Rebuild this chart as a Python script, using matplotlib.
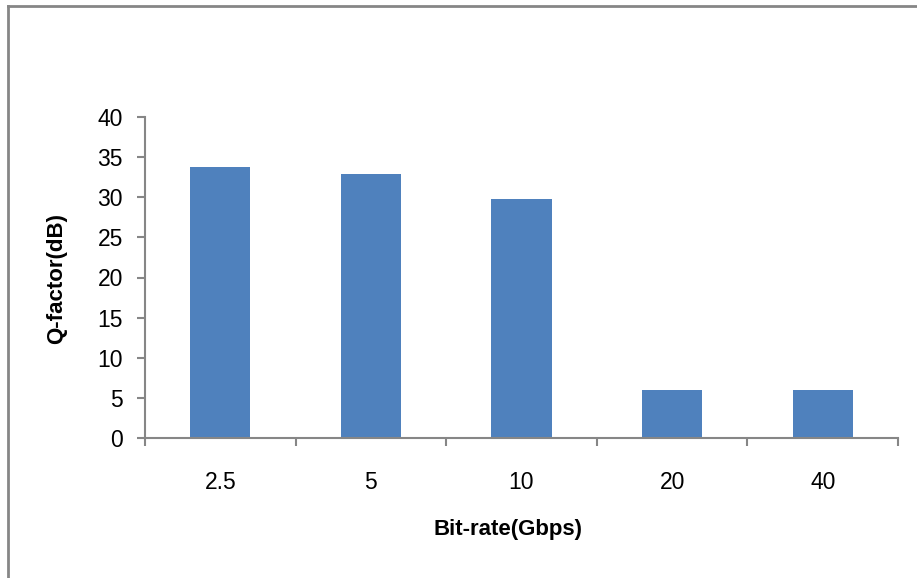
import matplotlib
matplotlib.use("Agg")
import matplotlib.pyplot as plt
from matplotlib.lines import Line2D
from matplotlib.ticker import FixedLocator

categories = ["2.5", "5", "10", "20", "40"]
q_factor = [33.8, 32.9, 29.8, 6.0, 6.0]
yticks = [0, 5, 10, 15, 20, 25, 30, 35, 40]

BAR = "#4f81bd"
GRAY = "#868686"
FONT = ["Liberation Sans", "DejaVu Sans"]

fig = plt.figure(figsize=(9.17, 5.78), dpi=100)
ax = fig.add_axes([145/917, 1-438/578, (898-145)/917, (438-117)/578])

x = list(range(len(categories)))
ax.bar(x, q_factor, width=0.4, color=BAR, zorder=2)

ax.set_xlim(-0.5, len(categories)-0.5)
ax.set_ylim(0, 40)
ax.set_yticks(yticks)
ax.set_yticklabels([str(v) for v in yticks], fontsize=16.5, family=FONT)

ax.xaxis.set_major_locator(FixedLocator([i-0.5 for i in range(len(categories)+1)]))
ax.set_xticklabels([""]*(len(categories)+1))
ax.set_xticks(x, minor=True)
ax.set_xticklabels(categories, minor=True, fontsize=16.5, family=FONT)
ax.tick_params(axis="x", which="minor", length=0, pad=24)
ax.tick_params(axis="x", which="major", length=6, width=1.5, color=GRAY, direction="out")
ax.tick_params(axis="y", length=6, width=1.5, color=GRAY, direction="out", pad=10)

for s in ["top", "right"]:
    ax.spines[s].set_visible(False)
for s in ["left", "bottom"]:
    ax.spines[s].set_color(GRAY)
    ax.spines[s].set_linewidth(1.5)

fig.text(508/917, 1-530/578, "Bit-rate(Gbps)", ha="center", va="center",
         fontsize=16, fontweight="bold", family=FONT)
fig.text(57/917, 1-278/578, "Q-factor(dB)", ha="center", va="center", rotation=90,
         fontsize=16, fontweight="bold", family=FONT)

# outer border (partially cropped)
fig.add_artist(Line2D([8/917, 1.0], [1-6/578, 1-6/578], color=GRAY, lw=2, transform=fig.transFigure))
fig.add_artist(Line2D([8/917, 8/917], [0.0, 1-6/578], color=GRAY, lw=2, transform=fig.transFigure))

fig.savefig("out.png", dpi=100)
